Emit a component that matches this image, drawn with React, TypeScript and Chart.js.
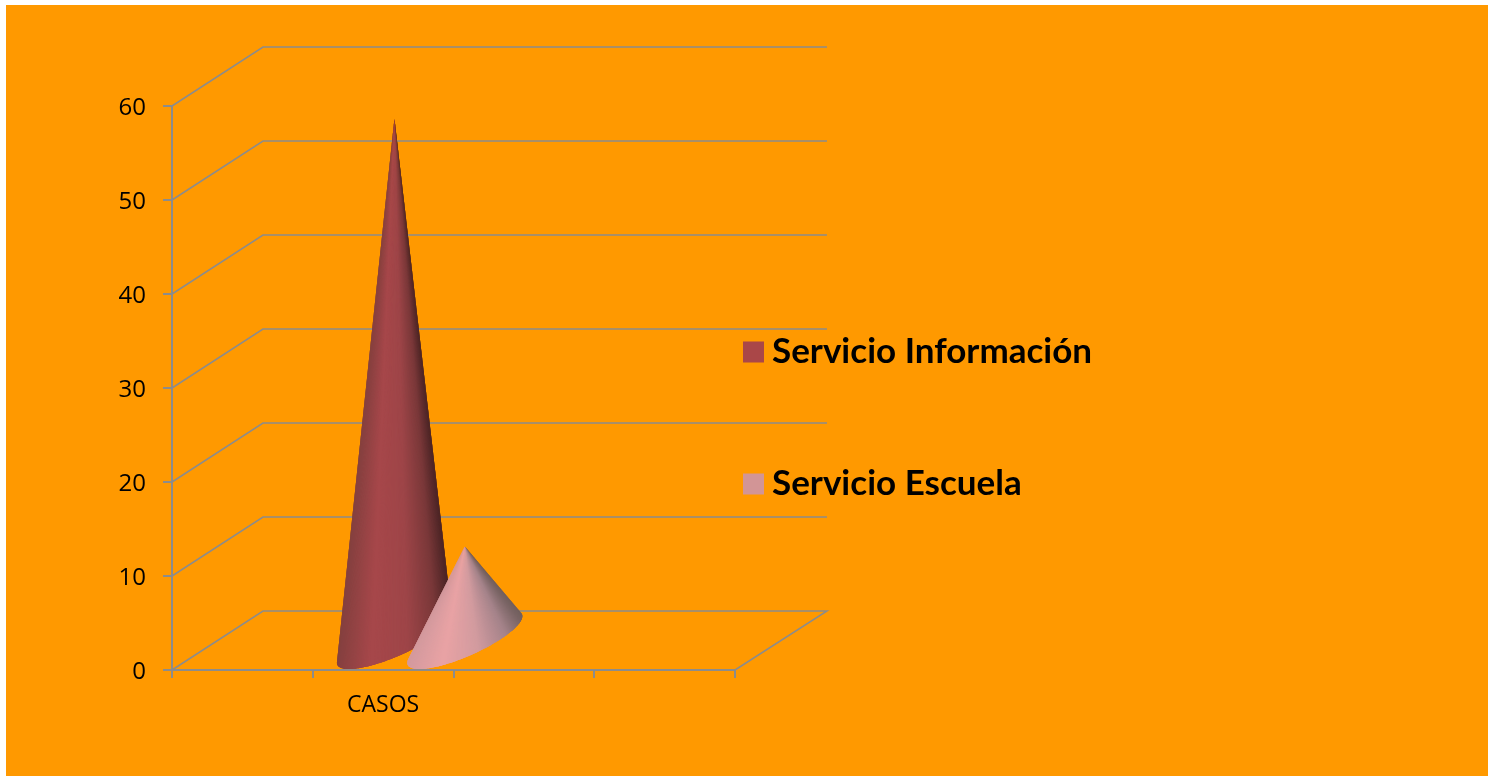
import React, { useEffect, useRef } from "react";
import { Chart, registerables } from "chart.js";

Chart.register(...registerables);

const categories = ["", "CASOS", "", ""];
const seriesNames = ["Servicio Información", "Servicio Escuela"];
const servicioInformacion = [null, 55.5, null, null];
const servicioEscuela = [null, 10, null, null];
const yTicks = [0, 10, 20, 30, 40, 50, 60];

const LEGEND_COLORS = ["#AA4748", "#D29596"];
const SHADES = [
  ["#84403F", "#A6474A", "#9E4548", "#7A3839", "#4A2425"],
  ["#D49A9E", "#E8A2A4", "#D29B9F", "#A5838A", "#73605F"],
];
const SHADE_STOPS = [0, 0.3, 0.6, 0.85, 1];
const ORANGE = "#FF9900";
const GRID = "#8C8C8C";
const DX = 91;
const DY = 59;
const CONE_SHIFT = 1;
const TICK_FONT = "'Open Sans', sans-serif";
const LEGEND_FONT = "Lato, sans-serif";

const hexToRgb = (h: string) => [1, 3, 5].map((i) => parseInt(h.slice(i, i + 2), 16));
function shade(colors: string[], t: number) {
  let k = 0;
  while (k < SHADE_STOPS.length - 2 && t > SHADE_STOPS[k + 1]) k++;
  const f = (t - SHADE_STOPS[k]) / (SHADE_STOPS[k + 1] - SHADE_STOPS[k]);
  const a = hexToRgb(colors[k]);
  const b = hexToRgb(colors[k + 1]);
  const c = a.map((v, i) => Math.round(v + (b[i] - v) * f));
  return `rgb(${c[0]},${c[1]},${c[2]})`;
}

function drawCone(ctx: CanvasRenderingContext2D, bar: any, colors: string[]) {
  const cx = bar.x + DX / 2 + CONE_SHIFT;
  const cy = bar.base - DY / 2;
  const ax = cx;
  const ay = bar.y - DY / 2;
  const a = bar.width / 2;
  const N = 240;
  const pts: { x: number; y: number; ang: number }[] = [];
  for (let i = 0; i < N; i++) {
    const th = (i / N) * Math.PI * 2;
    const x = cx + Math.cos(th) * a + Math.sin(th) * (DX / 2);
    const y = cy - Math.sin(th) * (DY / 2);
    pts.push({ x, y, ang: Math.atan2(x - ax, y - ay) });
  }
  let imin = 0;
  let imax = 0;
  pts.forEach((p, i) => {
    if (p.ang < pts[imin].ang) imin = i;
    if (p.ang > pts[imax].ang) imax = i;
  });
  const front = Math.round(N * 0.75);
  const fwdLen = (imax - imin + N) % N;
  const frontOnFwd = (front - imin + N) % N <= fwdLen;
  const step = frontOnFwd ? 1 : -1;
  const len = frontOnFwd ? fwdLen : N - fwdLen;
  const arc: { x: number; y: number }[] = [];
  for (let i = 0; i <= len; i++) arc.push(pts[(imin + step * i + N * 2) % N]);
  const xs = arc.map((p) => p.x);
  const x0 = Math.min(...xs);
  const x1 = Math.max(...xs);
  const wedges = [];
  for (let i = 0; i < arc.length - 1; i++) {
    wedges.push({ i, t: ((arc[i].x + arc[i + 1].x) / 2 - x0) / (x1 - x0) });
  }
  // outer wedges first, the brightest last, so no seams and no dark tip
  wedges.sort((p, q) => Math.abs(q.t - 0.3) - Math.abs(p.t - 0.3));
  ctx.save();
  wedges.forEach(({ i, t }) => {
    ctx.fillStyle = shade(colors, t);
    ctx.beginPath();
    ctx.moveTo(ax, ay);
    for (let j = Math.max(0, i - 1); j <= Math.min(arc.length - 1, i + 2); j++) {
      ctx.lineTo(arc[j].x, arc[j].y);
    }
    ctx.closePath();
    ctx.fill();
  });
  ctx.restore();
}

const scenePlugin = {
  id: "scene",
  beforeDraw(chart: any) {
    const { ctx, width, height, legend, chartArea, scales } = chart;
    ctx.save();
    ctx.fillStyle = ORANGE;
    ctx.fillRect(0, 0, width, height);
    ctx.restore();
    // legend sits over the chart, to the right of the plot
    const left = chartArea.left + 483.5;
    const top = chartArea.top + 131.5;
    legend.left = left;
    legend.right = left + 800;
    legend.top = top;
    legend.bottom = top + 500;
    // nudge the value labels down to where the reference has them
    if (!scales.y.$nudged) {
      scales.y.$nudged = true;
      scales.y.getLabelItems(chartArea).forEach((item: any) => {
        item.options.translation[1] += 2;
      });
    }
  },
  beforeDatasetsDraw(chart: any) {
    const { ctx, chartArea, scales } = chart;
    ctx.save();
    ctx.strokeStyle = GRID;
    ctx.lineWidth = 1.5;
    yTicks.forEach((v) => {
      const y = Math.round(scales.y.getPixelForValue(v));
      ctx.beginPath();
      ctx.moveTo(chartArea.left, y);
      ctx.lineTo(chartArea.left + DX, y - DY);
      ctx.lineTo(chartArea.right + DX + 1, y - DY);
      if (v === 0) ctx.lineTo(chartArea.right, y);
      ctx.stroke();
    });
    ctx.restore();
    chart.data.datasets.forEach((_: any, i: number) => {
      const meta = chart.getDatasetMeta(i);
      drawCone(ctx, meta.data[1], SHADES[i]);
    });
    return false;
  },
};

export default function App() {
  const ref = useRef<HTMLCanvasElement>(null);
  useEffect(() => {
    const chart = new Chart(ref.current as HTMLCanvasElement, {
      type: "bar",
      data: {
        labels: categories,
        datasets: [
          { label: seriesNames[0], data: servicioInformacion, backgroundColor: LEGEND_COLORS[0] },
          { label: seriesNames[1], data: servicioEscuela, backgroundColor: LEGEND_COLORS[1] },
        ],
      },
      options: {
        responsive: false,
        animation: false,
        layout: { padding: { left: 0, top: 101, right: 753, bottom: 0 } },
        datasets: { bar: { barPercentage: 1, categoryPercentage: 1 } },
        plugins: {
          tooltip: { enabled: false },
          title: { display: false },
          legend: {
            position: "chartArea",
            align: "start",
            labels: {
              color: "#000000",
              font: { family: LEGEND_FONT, size: 35, weight: "bold" },
              boxWidth: 2,
              boxHeight: 2,
              padding: 97,
              generateLabels: (chart: any) =>
                chart.data.datasets.map((d: any, i: number) => ({
                  text: d.label,
                  fillStyle: d.backgroundColor,
                  strokeStyle: d.backgroundColor,
                  lineWidth: 19,
                  datasetIndex: i,
                  fontColor: "#000000",
                })),
            },
          },
        },
        scales: {
          x: {
            afterFit: (s: any) => {
              s.height = 106;
            },
            border: { color: GRID, width: 2 },
            grid: { offset: true, drawOnChartArea: false, drawTicks: true, tickLength: 8, color: GRID, lineWidth: 2 },
            ticks: {
              color: "#000000",
              font: { family: TICK_FONT, size: 23 },
              autoSkip: false,
              maxRotation: 0,
              padding: 14,
            },
          },
          y: {
            min: 0,
            max: 60,
            afterFit: (s: any) => {
              s.width = 166;
            },
            border: { color: GRID, width: 2 },
            grid: { drawOnChartArea: false, drawTicks: true, tickLength: 9, color: GRID, lineWidth: 2 },
            ticks: {
              stepSize: 10,
              color: "#000000",
              font: { family: TICK_FONT, size: 24 },
              padding: 17,
            },
          },
        },
      } as any,
      plugins: [scenePlugin],
    });
    return () => chart.destroy();
  }, []);
  return (
    <canvas
      ref={ref}
      width={1482}
      height={771}
      style={{ position: "absolute", left: 6, top: 5, display: "block", width: 1482, height: 771 }}
    />
  );
}
